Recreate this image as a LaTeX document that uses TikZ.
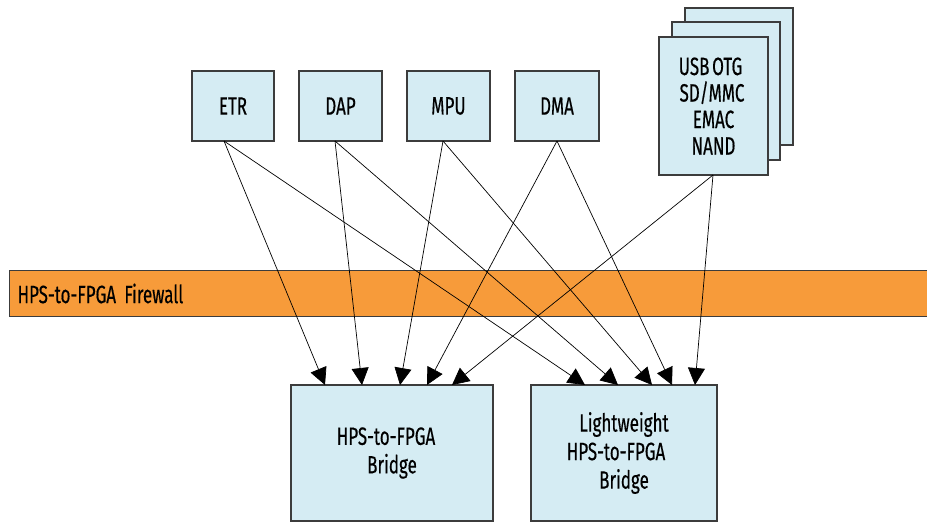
\documentclass[tikz,border=0pt]{standalone}
\usepackage{fontspec}
\setmainfont{Fira Sans}[FakeStretch=0.68, FakeBold=0.4, WordSpace=0.6]
\usetikzlibrary{arrows.meta}
\definecolor{boxfill}{HTML}{D5ECF3}
\definecolor{fwfill}{HTML}{F79B3A}
\definecolor{edgecol}{HTML}{3C3C3C}
\begin{document}
\begin{tikzpicture}[x=1pt,y=-1pt,
  blk/.style={draw=edgecol, fill=boxfill, line width=1.1pt, inner sep=0pt, align=center,
              font=\fontsize{25}{28.5}\selectfont},
  conn/.style={line width=0.7pt, -{Triangle[length=17pt,width=17pt]}}]
\useasboundingbox (0,0) rectangle (927,523);

% firewall band
\node[draw=edgecol, fill=fwfill, line width=1.1pt, anchor=west, text width=910pt, inner xsep=8pt,
      minimum height=46pt, align=left, font=\fontsize{25}{28}\selectfont] (fw) at (9,293.5) {HPS-to-FPGA Firewall};

% masters
\node[blk, minimum width=82pt, minimum height=70pt] (etr) at (233,106) {ETR};
\node[blk, minimum width=83pt, minimum height=70pt] (dap) at (340.5,106) {DAP};
\node[blk, minimum width=83pt, minimum height=70pt] (mpu) at (448.5,106) {MPU};
\node[blk, minimum width=84pt, minimum height=70pt] (dma) at (557,106) {DMA};

% stacked peripherals
\node[blk, minimum width=108pt, minimum height=137pt] (stk3) at (739,76.5) {};
\node[blk, minimum width=108pt, minimum height=138pt] (stk2) at (726,91) {};
\node[blk, minimum width=109pt, minimum height=138pt, font=\fontsize{25}{26.5}\selectfont] (stk) at (713.5,106) {\hspace*{-6pt}USB OTG\\\hspace*{-3pt}SD/MMC\\EMAC\\NAND};

% bridges
\node[blk, minimum width=202pt, minimum height=136pt] (br1) at (392,453) {\hspace*{-12pt}HPS-to-FPGA\\Bridge};
\node[blk, minimum width=186pt, minimum height=136pt] (br2) at (624,453) {Lightweight\\\hspace*{-16pt}HPS-to-FPGA\\Bridge};

% connector ends
\coordinate (etrO) at (224,141);
\coordinate (dapO) at (335,141);
\coordinate (mpuO) at (443,141);
\coordinate (dmaO) at (557,141);
\coordinate (stkO) at (713,175);

\coordinate (b1a) at (325,385);
\coordinate (b1b) at (362,385);
\coordinate (b1c) at (400,385);
\coordinate (b1d) at (427,385);
\coordinate (b1e) at (452,385);

\coordinate (b2a) at (585,385);
\coordinate (b2b) at (618,385);
\coordinate (b2c) at (652,385);
\coordinate (b2d) at (672,385);
\coordinate (b2e) at (695,385);

\draw[conn] (etrO) -- (b1a);
\draw[conn] (dapO) -- (b1b);
\draw[conn] (mpuO) -- (b1c);
\draw[conn] (dmaO) -- (b1d);
\draw[conn] (stkO) -- (b1e);

\draw[conn] (etrO) -- (b2a);
\draw[conn] (dapO) -- (b2b);
\draw[conn] (mpuO) -- (b2c);
\draw[conn] (dmaO) -- (b2d);
\draw[conn] (stkO) -- (b2e);
\end{tikzpicture}
\end{document}
